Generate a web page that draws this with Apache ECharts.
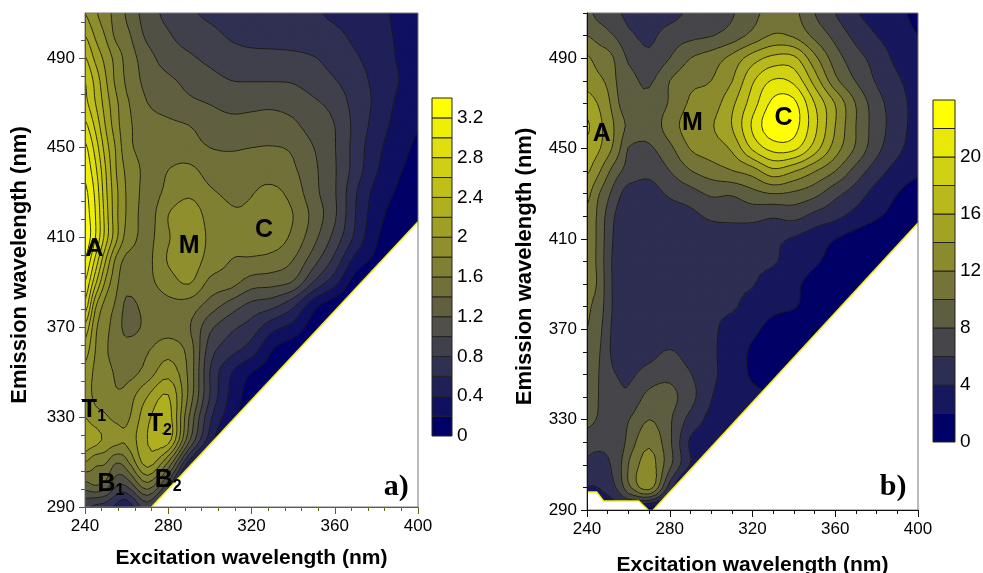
<!DOCTYPE html>
<html><head><meta charset="utf-8">
<style>html,body{margin:0;padding:0;background:#fff}#c{width:983px;height:573px}</style>
<script src="https://cdn.jsdelivr.net/npm/echarts@6/dist/echarts.min.js"></script>
</head><body><div id="c"></div>
<script>
// Excitation wavelengths (columns) and emission wavelengths (rows) of the read-off tables
const excitation=[240,245,250,255,260,270,280,290,300,310,320,330,340,350,360,370,380,390,400];
const emission=[510,500,490,480,470,460,450,440,430,420,410,400,390,380,370,360,350,340,330,320,310,300,290];
const intensityA=[
[2.0,1.83,1.68,1.52,1.37,1.09,.95,.83,.77,.74,.72,.7,.66,.62,.57,.51,.45,.37,.3],
[2.2,1.97,1.78,1.55,1.45,1.15,1.02,.92,.85,.78,.74,.72,.7,.67,.64,.56,.48,.38,.3],
[2.42,2.15,1.93,1.72,1.52,1.28,1.1,1.03,.95,.88,.86,.86,.85,.81,.72,.62,.52,.39,.3],
[2.6,2.33,2.02,1.75,1.56,1.33,1.24,1.14,1.07,1.0,.99,.99,.98,.9,.81,.68,.55,.41,.33],
[2.65,2.4,2.1,1.84,1.63,1.4,1.32,1.24,1.19,1.13,1.15,1.16,1.12,1.03,.93,.72,.56,.37,.24],
[2.85,2.55,2.18,1.88,1.65,1.49,1.44,1.4,1.32,1.27,1.27,1.28,1.24,1.1,1.0,.74,.52,.33,.21],
[3.05,2.72,2.3,1.97,1.66,1.53,1.53,1.47,1.4,1.38,1.4,1.41,1.37,1.2,1.01,.72,.46,.28,.17],
[3.15,2.85,2.4,2.0,1.75,1.55,1.6,1.65,1.52,1.5,1.52,1.5,1.43,1.24,1.02,.71,.42,.23,.14],
[3.25,2.95,2.45,2.05,1.78,1.53,1.65,1.76,1.63,1.57,1.59,1.65,1.52,1.26,1.02,.62,.33,.18,.09],
[3.3,3.0,2.5,2.05,1.78,1.52,1.8,1.93,1.72,1.62,1.63,1.72,1.6,1.33,1.03,.6,.28,.12,.05],
[3.35,3.0,2.5,2.05,1.72,1.55,1.78,1.95,1.76,1.64,1.65,1.7,1.55,1.26,.93,.55,.22,.07,.02],
[3.2,2.75,2.2,1.75,1.55,1.55,1.82,1.92,1.72,1.6,1.58,1.53,1.4,1.08,.74,.33,.15,.05,.02],
[3.0,2.45,1.95,1.65,1.47,1.55,1.7,1.82,1.55,1.48,1.3,1.27,1.18,.78,.47,.1,.02,0,0],
[2.75,2.05,1.72,1.57,1.36,1.47,1.55,1.52,1.32,1.12,.95,.87,.65,.27,.08,0,0,0,0],
[2.35,1.85,1.65,1.52,1.33,1.45,1.52,1.42,1.05,.85,.71,.47,.33,.1,0,0,0,0,0],
[2.1,1.8,1.62,1.55,1.5,1.58,1.72,1.52,.9,.68,.5,.2,.08,0,0,0,0,0,0],
[1.95,1.75,1.65,1.58,1.52,1.68,1.92,1.55,.8,.42,.2,.1,0,0,0,0,0,0,0],
[1.9,1.75,1.7,1.62,1.68,1.98,2.2,1.55,.8,.36,.1,0,0,0,0,0,0,0,0],
[2.0,1.88,1.82,1.75,1.75,2.15,2.3,1.4,.65,.28,.06,0,0,0,0,0,0,0,0],
[2.15,2.08,1.95,1.88,1.85,2.2,2.3,1.25,.5,.1,0,0,0,0,0,0,0,0,0],
[1.8,1.65,1.62,1.42,1.55,2.1,1.6,.55,.05,0,0,0,0,0,0,0,0,0,0],
[1.33,1.42,1.33,1.05,1.05,1.55,.9,0,0,0,0,0,0,0,0,0,0,0,0],
[.85,.75,.7,.55,.45,.9,.3,0,0,0,0,0,0,0,0,0,0,0,0]];
const intensityB=[
[8.6,7.5,7,6.2,5.5,4.8,5.3,6.4,7,7.8,9.4,10.8,10.5,8,6,4.2,3.2,2.5,1.5],
[10,9.3,8.5,7.6,6.4,5.6,6.9,7.5,7.9,8.9,10.6,12.2,11.7,9.5,7.4,5.4,4,3,2],
[12.3,11.3,10.8,9.3,7.7,6.4,8,10,11,12.6,15,16.6,16.5,12.6,9,6.8,5.2,3.5,2.4],
[13.3,12.5,11.6,9.7,8.7,7.7,10,11.5,12,13.9,17.7,20.2,19.5,15.2,10.6,7.9,5.8,4.3,3],
[14.9,14,12.5,10.2,8.6,8.5,10.2,12.3,13,15.5,19,22.5,22.5,18,13.9,9.9,6.8,4.9,3.3],
[16.3,14.7,13.2,11.2,9.6,8.8,11,13,13.8,16,20.3,23.5,22.8,18.6,14,10,7,5,3.2],
[15.3,14.4,12.8,10.6,7.9,7.7,9.5,12.1,13,14.3,18.3,20.7,20.5,17,13,9.7,6.6,4.5,3],
[14.3,12.6,10.4,8.5,7.2,6.5,8,9.9,11,11.9,13,15.4,14.1,12.1,10,7.2,4.9,3.2,2.3],
[12.6,10.4,8.5,6.5,5.2,5.2,6.3,7.2,8.3,8.2,9.3,10,9.6,8.6,6.6,5,3.2,2,1.2],
[11.6,9.8,7.4,5.5,5,4.9,5,5.4,6.4,6.6,6.7,6.2,6.6,5.4,4.5,3.3,2.2,1.4,.8],
[10.9,9.8,7.1,5.2,4.8,4.6,4.5,4.6,4.6,4.6,4.5,4.4,3.8,2.9,2,1.2,.5,.2,0],
[10.5,9.8,6.9,5,4.6,4.4,4.3,4.2,4.2,4.1,4.2,4.2,3,2.2,1.5,.9,.3,0,0],
[10.3,9.9,7,5,4.8,4.5,4.4,4.3,4.2,4.1,4.1,3.1,2.3,1.5,1,.6,.1,0,0],
[10.2,9.4,7,5,4.7,4.5,4.3,4.3,4.2,4.2,3.3,2.4,2.1,1.3,.7,.1,0,0,0],
[10,9,6.6,5,4.6,4.6,4.4,4.4,4.3,3.3,2.4,1.4,.9,.6,.1,0,0,0,0],
[9.5,8.5,6.4,5.2,4.8,5.2,6.2,5,4.3,3.1,1.7,.9,.4,.1,0,0,0,0,0],
[8.9,8.2,6.6,5.9,5.6,6.9,7.5,6.1,4.4,3.2,1.7,.9,.3,0,0,0,0,0,0],
[8.5,8.1,7,6.5,6.5,8.6,8.6,6.7,4.1,3,2.4,1.7,0,0,0,0,0,0,0],
[8.5,7.9,7.2,6.9,7.9,10,8.3,5.3,3.4,2.4,1.2,0,0,0,0,0,0,0,0],
[6.9,6.7,6.5,6.6,8.8,11.6,8.4,3.7,2.7,.5,0,0,0,0,0,0,0,0,0],
[5.5,5,5.7,7.2,10,13,8.5,3.9,1.5,0,0,0,0,0,0,0,0,0,0],
[3.9,4,4.8,6.5,9.5,13,5,0,0,0,0,0,0,0,0,0,0,0,0],
[2,2.2,2.4,3,3,1,0,0,0,0,0,0,0,0,0,0,0,0,0]];
// Contour levels and colour-bar labels
const levelsA=[0,.2,.4,.6,.8,1,1.2,1.4,1.6,1.8,2,2.2,2.4,2.6,2.8,3,3.2,3.4];
const levelsB=[0,2,4,6,8,10,12,14,16,18,20,22,24];
const barLabelsA=[0,.4,.8,1.2,1.6,2,2.4,2.8,3.2];
const barLabelsB=[0,4,8,12,16,20];
// Axis ticks
const xMajor=[240,280,320,360,400];
const yMajor=[290,330,370,410,450,490];
const xMinorA=[248,256,264,272,288,296,304,312,328,336,344,352,368,376,384,392];
const yMinorA=[298,306,314,322,338,346,354,362,378,386,394,402,418,426,434,442,458,466,474,482,498,506];
const xMinorB=[250,260,270,290,300,310,330,340,350,370,380,390];
const yMinorB=[300,310,320,340,350,360,380,390,400,420,430,440,460,470,480,500,510];
// Masked (no data) regions, in nm
const maskEdge=[[272,290],[400,417]];
const maskFoot=[[240,298],[244.7,298],[248,294],[265,294],[269.6,290]];
// Peak labels: excitation, emission, text
const peaksA=[[244.6,404.7,'{m|A}'],[290,406,'{m|M}'],[326,413.1,'{m|C}'],[244.3,333,'{m|T}{s|1}'],[276,326.7,'{m|T}{s|2}'],[252.5,300,'{m|B}{s|1}'],[280,301.8,'{m|B}{s|2}'],[389.5,299,'{p|a)}']];
const peaksB=[[247.2,456.2,'{m|A}'],[291,461.3,'{m|M}'],[335,463.3,'{m|C}'],[388,300,'{p|b)}']];

const SUB=4;
function cr(a,b,c,d,t){return .5*(2*b+(c-a)*t+(2*a-5*b+4*c-d)*t*t+(3*b-a-3*c+d)*t*t*t);}
function fineGrid(xs,ys,z){
  const at=(i,j)=>z[Math.max(0,Math.min(ys.length-1,i))][Math.max(0,Math.min(xs.length-1,j))];
  const fx=[],fy=[],f=[];
  for(let j=0;j<xs.length-1;j++)for(let s=0;s<SUB;s++)fx.push(xs[j]+(xs[j+1]-xs[j])*s/SUB);
  fx.push(xs[xs.length-1]);
  for(let i=0;i<ys.length-1;i++)for(let s=0;s<SUB;s++)fy.push(ys[i]+(ys[i+1]-ys[i])*s/SUB);
  fy.push(ys[ys.length-1]);
  for(let a=0;a<fy.length;a++){
    const i=Math.min(Math.floor(a/SUB),ys.length-1),u=a/SUB-i,row=[];
    for(let b=0;b<fx.length;b++){
      const j=Math.min(Math.floor(b/SUB),xs.length-1),v=b/SUB-j,c=[];
      for(let p=-1;p<=2;p++)c.push(cr(at(i+p,j-1),at(i+p,j),at(i+p,j+1),at(i+p,j+2),v));
      row.push(cr(c[0],c[1],c[2],c[3],u));
    }
    f.push(row);
  }
  return {fx,fy,f};
}
const colorOf=(k,n)=>{const t=k/(n-1),r=Math.round(255*t),b=Math.round(102*(1-t));return `rgb(${r},${r},${b})`;};
function pathEl(d,box,style){
  return {type:'path',shape:{pathData:d,x:box[0],y:box[1],width:Math.max(box[2]-box[0],.01),height:Math.max(box[3]-box[1],.01),layout:'cover'},style};
}
function contourSeries(xi,yi,grid,levels){
  return {type:'custom',xAxisIndex:xi,yAxisIndex:yi,silent:true,animation:false,clip:true,z:2,data:[[excitation[0],emission[0]]],
    renderItem(params,api){
      const P=[],nr=grid.fy.length,nc=grid.fx.length;
      const X=grid.fx.map(x=>api.coord([x,grid.fy[0]])[0]),Y=grid.fy.map(y=>api.coord([grid.fx[0],y])[1]);
      const n=levels.length-1,children=[];
      const lt=api.coord([grid.fx[0],grid.fy[0]]),rb=api.coord([grid.fx[nc-1],grid.fy[nr-1]]);
      children.push({type:'rect',shape:{x:lt[0],y:lt[1],width:rb[0]-lt[0],height:rb[1]-lt[1]},style:{fill:colorOf(0,n)}});
      for(let k=1;k<n;k++){
        const L=levels[k];let fill=[],line=[];
        const box=[1e9,1e9,-1e9,-1e9],lb=[1e9,1e9,-1e9,-1e9];
        const add=(b,p)=>{b[0]=Math.min(b[0],p[0]);b[1]=Math.min(b[1],p[1]);b[2]=Math.max(b[2],p[0]);b[3]=Math.max(b[3],p[1]);};
        const fmt=p=>p[0].toFixed(2)+' '+p[1].toFixed(2);
        const tri=(a,b,c)=>{
          const v=[a,b,c],out=[],seg=[];
          for(let q=0;q<3;q++){
            const s=v[q],e=v[(q+1)%3],si=s[2]>=L,ei=e[2]>=L;
            if(si)out.push(s);
            if(si!==ei){const t=(L-s[2])/(e[2]-s[2]);const m=[s[0]+(e[0]-s[0])*t,s[1]+(e[1]-s[1])*t,L];out.push(m);seg.push(m);}
          }
          if(out.length>=3){fill.push('M'+out.map(fmt).join('L')+'Z');out.forEach(p=>add(box,p));}
          if(seg.length===2){line.push('M'+fmt(seg[0])+'L'+fmt(seg[1]));add(lb,seg[0]);add(lb,seg[1]);}
        };
        for(let i=0;i<nr-1;i++)for(let j=0;j<nc-1;j++){
          const a=[X[j],Y[i],grid.f[i][j]],b=[X[j+1],Y[i],grid.f[i][j+1]],c=[X[j+1],Y[i+1],grid.f[i+1][j+1]],d=[X[j],Y[i+1],grid.f[i+1][j]];
          tri(a,b,c);tri(a,c,d);
        }
        const col=colorOf(k,n);
        if(fill.length)children.push(pathEl(fill.join(''),box,{fill:col,stroke:col,lineWidth:1.1}));
        P.push([line,lb]);
      }
      P.forEach(([line,lb])=>{if(line.length)children.push(pathEl(line.join(''),lb,{fill:null,stroke:'#151510',lineWidth:.9}));});
      return {type:'group',children};
    }};
}
function maskSeries(xi,yi,xr,yr,polys,frameColor){
  return {type:'custom',xAxisIndex:xi,yAxisIndex:yi,silent:true,animation:false,clip:false,z:3,data:[[xr[0],yr[0]]],
    renderItem(params,api){
      const children=[];
      polys.forEach(pg=>{
        const pts=pg.fill.map(p=>api.coord(p));
        children.push({type:'polygon',shape:{points:pts},style:{fill:'#fff',stroke:null}});
        children.push({type:'polyline',shape:{points:pg.edge.map(p=>api.coord(p))},style:{fill:null,stroke:'#f4f000',lineWidth:1.4}});
      });
      const a=api.coord([xr[0],yr[1]]),b=api.coord([xr[1],yr[0]]);
      children.push({type:'rect',shape:{x:a[0],y:a[1],width:b[0]-a[0],height:b[1]-a[1]},style:{fill:null,stroke:frameColor,lineWidth:1}});
      return {type:'group',children};
    }};
}
function barSeries(xi,yi,levels){
  return {type:'custom',xAxisIndex:xi,yAxisIndex:yi,silent:true,animation:false,z:2,
    data:levels.slice(0,-1).map((l,k)=>[l,levels[k+1],k]),
    encode:{y:[0,1]},
    renderItem(params,api){
      const lo=api.value(0),hi=api.value(1),k=api.value(2),p=api.coord([0,hi]),q=api.coord([1,lo]);
      return {type:'rect',shape:{x:p[0],y:p[1],width:q[0]-p[0],height:q[1]-p[1]},style:{fill:colorOf(k,levels.length-1),stroke:'#222',lineWidth:1}};
    }};
}
function labelSeries(xi,yi,list){
  return {type:'scatter',xAxisIndex:xi,yAxisIndex:yi,symbolSize:0,silent:true,animation:false,z:6,data:list,itemStyle:{opacity:1},
    label:{show:true,position:'inside',opacity:1,formatter:p=>p.data[2],
      rich:{m:{fontFamily:'Liberation Sans',fontWeight:'bold',fontSize:25,color:'#000',lineHeight:26},
            s:{fontFamily:'Liberation Sans',fontWeight:'bold',fontSize:16,color:'#000',verticalAlign:'bottom',padding:[12,0,0,0]},
            p:{fontFamily:'Liberation Serif',fontWeight:'bold',fontSize:30,color:'#000'}}}};
}
const font={fontFamily:'Liberation Sans',fontSize:17,color:'#000'};
const barFont={fontFamily:'Liberation Sans',fontSize:19,color:'#000',padding:[3,0,0,0]};
const nameFont={fontFamily:'Liberation Sans',fontWeight:'bold',fontSize:21,color:'#000'};
const yNameFont={fontFamily:'Liberation Sans',fontWeight:'bold',fontSize:22,color:'#000',padding:[0,10,0,0]};
function mainX(gi,name,gap,col){return {type:'value',gridIndex:gi,min:240,max:400,z:5,position:'bottom',name,nameLocation:'middle',nameGap:gap,nameTextStyle:nameFont,
  splitLine:{show:false},axisLine:{show:true,onZero:false,lineStyle:{color:col,width:1}},
  axisTick:{show:true,length:7,customValues:xMajor,lineStyle:{color:col}},axisLabel:{show:true,margin:11,customValues:xMajor,...font,hideOverlap:false}};}
function minorX(gi,vals,col){return {type:'value',gridIndex:gi,min:240,max:400,z:5,position:'bottom',
  splitLine:{show:false},axisLine:{show:false,onZero:false},axisTick:{show:true,length:4,customValues:vals,lineStyle:{color:col}},axisLabel:{show:false}};}
function mainY(gi,name,gap,col){return {type:'value',gridIndex:gi,min:290,max:510,z:5,position:'left',name,nameLocation:'middle',nameGap:gap,nameTextStyle:yNameFont,
  splitLine:{show:false},axisLine:{show:true,onZero:false,lineStyle:{color:col,width:1}},
  axisTick:{show:true,length:6,customValues:yMajor,lineStyle:{color:col}},axisLabel:{show:true,margin:10,customValues:yMajor,...font,padding:[2,0,0,0]}};}
function minorY(gi,vals,col){return {type:'value',gridIndex:gi,min:290,max:510,z:5,position:'left',
  splitLine:{show:false},axisLine:{show:false,onZero:false},axisTick:{show:true,length:4,customValues:vals,lineStyle:{color:col}},axisLabel:{show:false}};}
function barX(gi){return {type:'value',gridIndex:gi,min:0,max:1,show:false};}
function barY(gi,max,labels){return {type:'value',gridIndex:gi,min:0,max,position:'right',splitLine:{show:false},axisLine:{show:false,onZero:false},axisTick:{show:false},
  axisLabel:{show:true,margin:5,customValues:labels,...barFont,formatter:v=>String(v)}};}

const gridA=fineGrid(excitation,emission,intensityA),gridB=fineGrid(excitation,emission,intensityB);
const colA='#555',colAx='#666610',colB='#111';
const option={
  backgroundColor:'#fff',animation:false,
  grid:[{left:85,top:13,width:333,height:494,outerBoundsMode:'none'},{left:432,top:98,width:20,height:338,outerBoundsMode:'none'},
        {left:587,top:13,width:331,height:497,outerBoundsMode:'none'},{left:933,top:100,width:22,height:342,outerBoundsMode:'none'}],
  xAxis:[mainX(0,'Excitation wavelength (nm)',41,colAx),minorX(0,xMinorA,colAx),barX(1),mainX(2,'Excitation wavelength (nm)',45,colB),minorX(2,xMinorB,colB),barX(3)],
  yAxis:[mainY(0,'Emission wavelength (nm)',54,colA),minorY(0,yMinorA,colA),barY(1,3.4,barLabelsA),mainY(2,'Emission wavelength (nm)',51,colB),minorY(2,yMinorB,colB),barY(3,24,barLabelsB)],
  series:[
    contourSeries(0,0,gridA,levelsA),
    maskSeries(0,0,[240,400],[290,510],[{fill:maskEdge.concat([[400,290]]),edge:maskEdge}],'#777'),
    labelSeries(0,0,peaksA),barSeries(2,2,levelsA),
    contourSeries(3,3,gridB,levelsB),
    maskSeries(3,3,[240,400],[290,510],[{fill:maskEdge.concat([[400,290]]),edge:maskEdge},{fill:[[240,290]].concat(maskFoot),edge:maskFoot}],'#777'),
    labelSeries(3,3,peaksB),barSeries(5,5,levelsB)
  ]
};
const chart=echarts.init(document.getElementById('c'),null,{renderer:'canvas'});
chart.setOption(option);
</script></body></html>
